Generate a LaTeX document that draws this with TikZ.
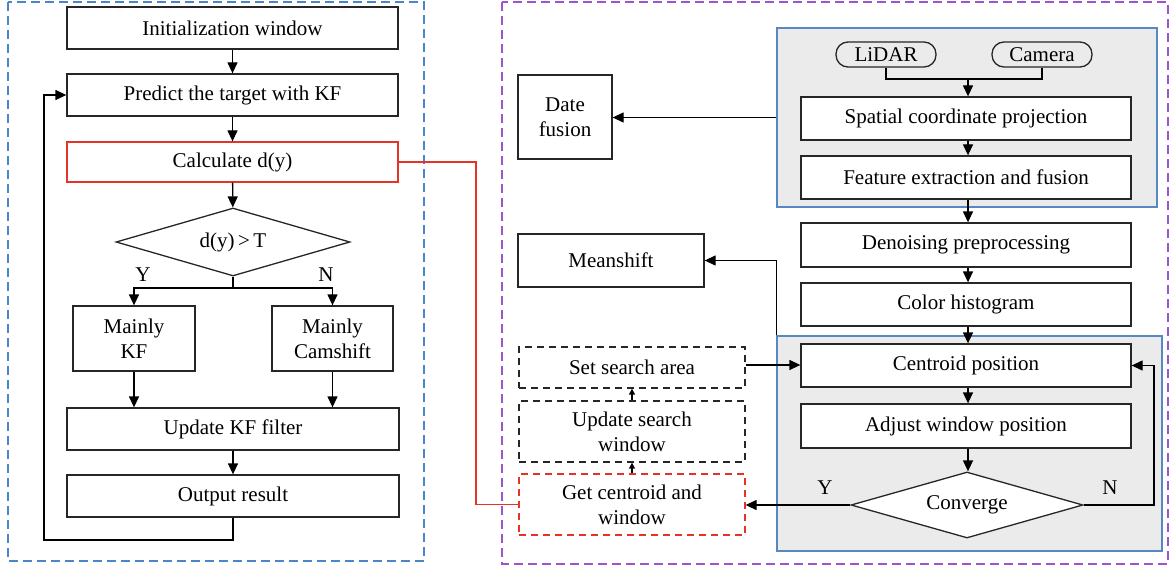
\documentclass[tikz,border=0pt]{standalone}
\usepackage{fontspec}
\setmainfont{Liberation Serif}
\usetikzlibrary{arrows.meta,shapes.geometric}
\definecolor{kfblue}{RGB}{74,134,200}
\definecolor{grpblue}{RGB}{88,136,196}
\definecolor{fusepurple}{RGB}{155,85,205}
\definecolor{calcred}{RGB}{228,52,40}
\definecolor{grpgray}{RGB}{235,235,235}
\tikzset{
  box/.style={draw=black!85, line width=1.3pt, fill=white, align=center, inner sep=2pt},
  decide/.style={diamond, draw=black!85, line width=1.3pt, fill=white, aspect=3.4, inner sep=0pt},
  pill/.style={draw=black!85, line width=1.3pt, rounded corners=12pt, fill=grpgray},
  dbox/.style={box, dash pattern=on 7pt off 5pt},
  grp/.style={draw=grpblue, line width=1.5pt, fill=grpgray},
  outer/.style={line width=1.5pt, dash pattern=on 9pt off 5pt},
  flow/.style={-{Triangle[length=11pt,width=10pt]}, line width=1.3pt, draw=black},
  smallflow/.style={-{Triangle[length=6pt,width=6pt]}, line width=1.3pt, draw=black},
}
\begin{document}
\begin{tikzpicture}[x=1pt, y=-1pt, font=\fontsize{21}{25}\selectfont]
  \useasboundingbox (0,0) rectangle (1170,567);
  % frames
  \draw[outer, draw=kfblue] (8,2) rectangle (424,561);
  \draw[outer, draw=fusepurple] (502,2) rectangle (1168,564);
  \node[grp, minimum width=380pt, minimum height=179pt] (grpa) at (967,117.5) {};
  \node[grp, minimum width=385pt, minimum height=215pt] (grpb) at (969.5,443.5) {};

  % left: KF / Camshift switch
  \node[box, minimum width=331pt, minimum height=42pt] (init) at (232.5,28) {Initialization window};
  \node[box, minimum width=331pt, minimum height=42pt] (predict) at (232.5,95) {Predict the target with KF};
  \node[box, draw=calcred, minimum width=331pt, minimum height=40pt] (calc) at (232.5,162) {Calculate d(y)};
  \node[decide, minimum width=234pt, minimum height=68pt] (cond) at (233,242) {d(y)\,>\,T};
  \node[box, minimum width=122pt, minimum height=65pt] (mkf) at (134,338.5) {Mainly\\KF};
  \node[box, minimum width=121pt, minimum height=65pt] (mcam) at (332.5,338.5) {Mainly\\Camshift};
  \node[box, minimum width=332pt, minimum height=42pt] (upkf) at (233,429) {Update KF filter};
  \node[box, minimum width=332pt, minimum height=42pt] (out) at (233,496) {Output result};
  \node (ly) at (143,275) {Y};
  \node (ln) at (326,275) {N};
  \coordinate (split) at (233,288);
  \coordinate (loop) at (44,540);

  \draw[flow] (init) -- (predict);
  \draw[flow] (predict) -- (calc);
  \draw[flow] (calc) -- (cond);
  \draw[line width=1.3pt] (cond.south) -- (split);
  \draw[flow] (split) -| (mkf.north);
  \draw[flow] (split) -| (mcam.north);
  \draw[flow] (mkf.south) -- (mkf.south |- upkf.north);
  \draw[flow] (mcam.south) -- (mcam.south |- upkf.north);
  \draw[flow] (upkf) -- (out);
  \draw[flow] (out.south) |- (loop) |- (predict.west);

  % right: fusion and meanshift tracking
  \node[pill, minimum width=100pt, minimum height=25pt] (lidar) at (886,54.5) {LiDAR};
  \node[pill, minimum width=100pt, minimum height=25pt] (camera) at (1042,54.5) {Camera};
  \node[box, minimum width=330pt, minimum height=43pt] (proj) at (966,118.5) {Spatial coordinate projection};
  \node[box, minimum width=330pt, minimum height=43pt] (feat) at (966,177.5) {Feature extraction and fusion};
  \node[box, minimum width=94pt, minimum height=84pt] (fusion) at (565,117) {Date\\fusion};
  \node[box, minimum width=330pt, minimum height=44pt] (denoise) at (966,245) {Denoising preprocessing};
  \node[box, minimum width=186pt, minimum height=53pt] (meanshift) at (611,260.5) {Meanshift};
  \node[box, minimum width=330pt, minimum height=43pt] (hist) at (966,304.5) {Color histogram};
  \node[box, minimum width=330pt, minimum height=43pt] (centroid) at (966,365.5) {Centroid position};
  \node[box, minimum width=330pt, minimum height=44pt] (adjust) at (966,426) {Adjust window position};
  \node[decide, minimum width=232pt, minimum height=66pt] (conv) at (967,505) {Converge};
  \node[dbox, minimum width=226pt, minimum height=41pt] (area) at (632,367.5) {Set search area};
  \node[dbox, minimum width=226pt, minimum height=61pt] (upwin) at (632,431.5) {Update search\\window};
  \node[dbox, draw=calcred, minimum width=226pt, minimum height=61pt] (getc) at (632,504.5) {Get centroid and\\window};
  \node (ry) at (825,488) {Y};
  \node (rn) at (1110,488) {N};
  \coordinate (join) at (968,79);
  \coordinate (back) at (1154,505);
  \coordinate (link) at (476,162);

  \draw[line width=1.3pt] (lidar.south) |- (join) -| (camera.south);
  \draw[flow] (join) -- (proj.north -| join);
  \draw[flow] (proj.south -| join) -- (feat.north -| join);
  \draw[flow] (feat.south -| join) -- (denoise.north -| join);
  \draw[flow] (denoise.south -| join) -- (hist.north -| join);
  \draw[flow] (hist.south -| join) -- (centroid.north -| join);
  \draw[flow] (centroid.south -| join) -- (adjust.north -| join);
  \draw[flow] (adjust.south -| join) -- (conv.north -| join);
  \draw[flow] (grpa.west) -- (grpa.west -| fusion.east);
  \draw[flow] (grpb.north west) |- (meanshift.east);
  \draw[flow] (conv.east) -- (back) |- (centroid.east);
  \draw[flow] (conv.west) -- (conv.west -| getc.east);
  \draw[smallflow] (getc.north) -- (upwin.south);
  \draw[smallflow] (upwin.north) -- (area.south);
  \draw[flow] (area.east |- 0,365) -- (centroid.west |- 0,365);
  \draw[line width=1.3pt, draw=calcred] (calc.east) -- (link) |- (getc.west);
\end{tikzpicture}
\end{document}
